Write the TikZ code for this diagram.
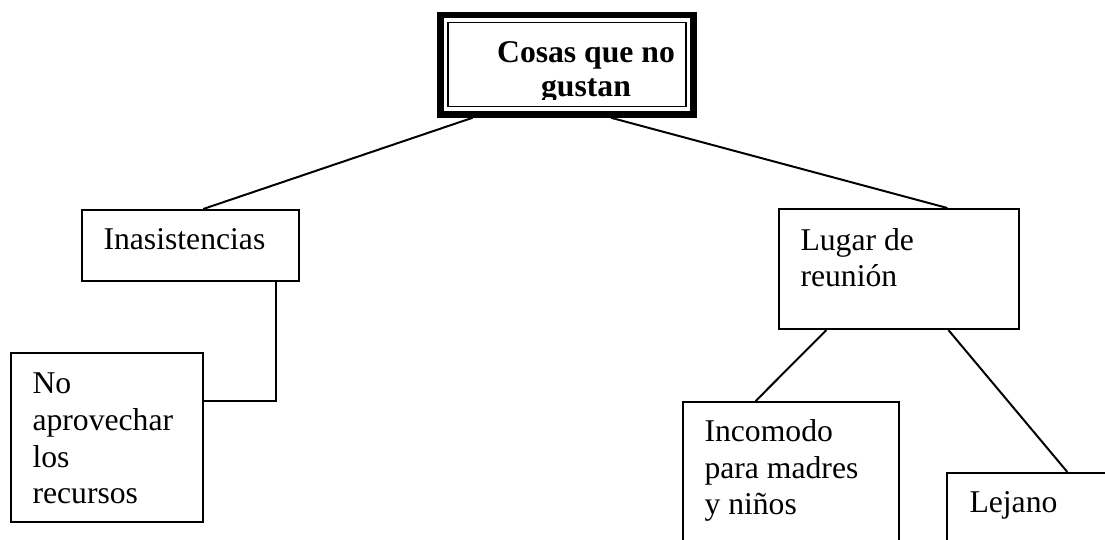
\documentclass[tikz,border=0pt]{standalone}
\usepackage{fontspec}
\setmainfont{Liberation Serif}
\usetikzlibrary{fit, calc}

\begin{document}
\begin{tikzpicture}[
    x=0.379pt, y=-0.379pt,
    every node/.style={font=\fontsize{12pt}{14pt}\selectfont},
    box/.style={rectangle, draw, line width=0.75pt, inner sep=0pt},
    frame/.style={rectangle, draw, line width=2.5pt, inner sep=0pt},
    txt/.style={inner sep=0pt, align=left, anchor=base west},
    link/.style={line width=0.75pt}
  ]
    \clip (0,0) rectangle (1105,540);
    % Boxes
    \node[frame, fit={(440.5,15) (693.5,114.5)}] (top) {};
    \node[box, fit={(448,22.5) (686,106.5)}] (topinner) {};
    \node[box, fit={(82,210) (299,281)}] (inas) {};
    \node[box, fit={(11,353) (203,522)}] (noapr) {};
    \node[box, fit={(779,209) (1019,329)}] (lugar) {};
    \node[box, fit={(683,402) (899,560)}] (incom) {};
    \node[box, fit={(947,473) (1130,560)}] (lejano) {};
    % Texts (anchored on the baseline of the last line)
    \begin{scope}
      \clip (448,22) rectangle (686,100);
      \node[font=\fontsize{12pt}{12.9pt}\selectfont\bfseries, align=center, anchor=base, inner sep=0pt] (toptxt) at (586,97) {Cosas que no\\gustan};
    \end{scope}
    \node[txt] (inastxt) at (103,250) {Inasistencias};
    \node[txt] (noaprtxt) at (32,504) {No\\aprovechar\\los\\recursos};
    \node[txt] (lugartxt) at (800,287) {Lugar de\\reunión};
    \node[txt] (incomtxt) at (704,515) {Incomodo\\para madres\\y niños};
    \node[txt] (lejanotxt) at (969,513) {Lejano};
    % Connectors
    \draw[link] ($(top.south west)!0.136!(top.south east)$) -- ($(inas.north west)!0.558!(inas.north east)$);
    \draw[link] ($(top.south west)!0.67!(top.south east)$) -- ($(lugar.north west)!0.7!(lugar.north east)$);
    \draw[link] ($(inas.south west)!0.889!(inas.south east)$) |- ($(noapr.north east)!0.284!(noapr.south east)$);
    \draw[link] ($(lugar.south west)!0.2!(lugar.south east)$) -- ($(incom.north west)!0.338!(incom.north east)$);
    \draw[link] ($(lugar.south west)!0.704!(lugar.south east)$) -- ($(lejano.north west)!0.656!(lejano.north east)$);
\end{tikzpicture}
\end{document}
